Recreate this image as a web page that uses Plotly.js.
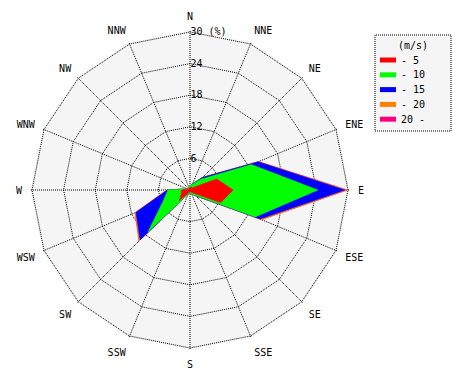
<!DOCTYPE html>
<html>
<head>
<meta charset="utf-8">
<script src="https://cdn.plot.ly/plotly-3.0.1.min.js"></script>
<style>html,body{margin:0;padding:0;background:#fff;}#chart{width:470px;height:380px;}</style>
</head>
<body>
<div id="chart"></div>
<script>
// Wind directions (clockwise from North)
const directions = ["N","NNE","NE","ENE","E","ESE","SE","SSE","S","SSW","SW","WSW","W","WNW","NW","NNW"];
// Frequency (%) for each speed class, per direction
const speed0to5   = [0.5,0.6,0.6,5.5,8.2,6.3,0.8,0.4,0.3,0.5,2.9,1.8,1.6,0.4,0.3,0.3];
const speed5to10  = [0.3,0.6,2.3,7.1,16.1,7.1,0.7,0.4,0.2,0.3,8.4,3.7,2.6,0.2,0.1,0.2];
const speed10to15 = [0,0.1,0.5,1.4,5.1,1.0,0.1,0,0,0,2.1,5.6,0.1,0,0,0];
const speed15to20 = [0,0,0,0.1,0.4,0.3,0,0,0,0,0.3,0.2,0.1,0,0,0];
const speedOver20 = [0,0,0,0,0.1,0,0,0,0,0,0,0,0,0,0,0];
const classNames  = ["- 5","- 10","- 15","- 20","20 -"];
const classColors = ["#ff0000","#00ff00","#0000ff","#ff8000","#ff0080"];
const legendTitle = "(m/s)";
const radialTicks = [6,12,18,24,30];
const radialTickText = ["6","12","18","24","30 (%)"];

const series = [speed0to5, speed5to10, speed10to15, speed15to20, speedOver20];
// cumulative stacks
const cum = [];
let run = directions.map(() => 0);
series.forEach(s => { run = run.map((v,i) => v + s[i]); cum.push(run.slice()); });

const traces = [];
for (let k = series.length - 1; k >= 0; k--) {
  traces.push({
    type: "scatterpolar",
    r: cum[k].concat([cum[k][0]]),
    theta: directions.concat([directions[0]]),
    mode: "lines",
    fill: "toself",
    fillcolor: classColors[k],
    line: {color: classColors[k], width: 0.5},
    name: classNames[k],
    showlegend: false,
    hoverinfo: "skip"
  });
}

const F = "DejaVu Sans Mono, monospace";
const W = 470, H = 380;
const cx = 190, cy = 190, R30 = 158, rMax = 30.3;
const Rfull = R30 * rMax / 30;

// legend (drawn as paper shapes + text)
const px = x => x / W, py = y => 1 - y / H;
const shapes = [{
  type: "rect", xref: "paper", yref: "paper",
  x0: px(375), x1: px(451), y0: py(131), y1: py(35),
  line: {color: "#000", width: 1, dash: "1px,1px"},
  fillcolor: "#f5f5f5", layer: "below"
}];
const annotations = [{
  xref: "paper", yref: "paper", x: px(413), y: py(45), xanchor: "center", yanchor: "middle",
  text: legendTitle, showarrow: false, font: {family: F, size: 10, color: "#000"}
}];
classNames.forEach((name, i) => {
  const yc = 60 + i * 14.8;
  shapes.push({
    type: "rect", xref: "paper", yref: "paper",
    x0: px(380), x1: px(396), y0: py(yc + 2.5), y1: py(yc - 2.5),
    line: {width: 0}, fillcolor: classColors[i]
  });
  annotations.push({
    xref: "paper", yref: "paper", x: px(399), y: py(yc), xanchor: "left", yanchor: "middle",
    text: name, showarrow: false, font: {family: F, size: 10, color: "#000"}
  });
});

const layout = {
  width: W, height: H,
  margin: {l: 0, r: 0, t: 0, b: 0},
  paper_bgcolor: "#ffffff",
  font: {family: F, size: 10, color: "#000"},
  showlegend: false,
  polar: {
    domain: {x: [(cx - Rfull) / W, (cx + Rfull) / W], y: [(H - cy - Rfull) / H, (H - cy + Rfull) / H]},
    bgcolor: "#f5f5f5",
    gridshape: "linear",
    radialaxis: {
      range: [0, rMax], angle: 90, tickangle: 90,
      tickvals: radialTicks, ticktext: radialTickText,
      showline: false, ticks: "",
      showgrid: true, gridcolor: "#000", griddash: "1px,1px", gridwidth: 1,
      tickfont: {family: F, size: 10, color: "#000"}
    },
    angularaxis: {
      type: "category", categoryarray: directions,
      direction: "clockwise", rotation: 90,
      showline: false, ticks: "outside", ticklen: 6, tickcolor: "rgba(0,0,0,0)",
      showgrid: true, gridcolor: "#000", griddash: "1px,1px", gridwidth: 1,
      tickfont: {family: F, size: 10, color: "#000"}
    }
  },
  shapes: shapes,
  annotations: annotations
};

Plotly.newPlot("chart", traces, layout, {displayModeBar: false, staticPlot: true});
</script>
</body>
</html>
